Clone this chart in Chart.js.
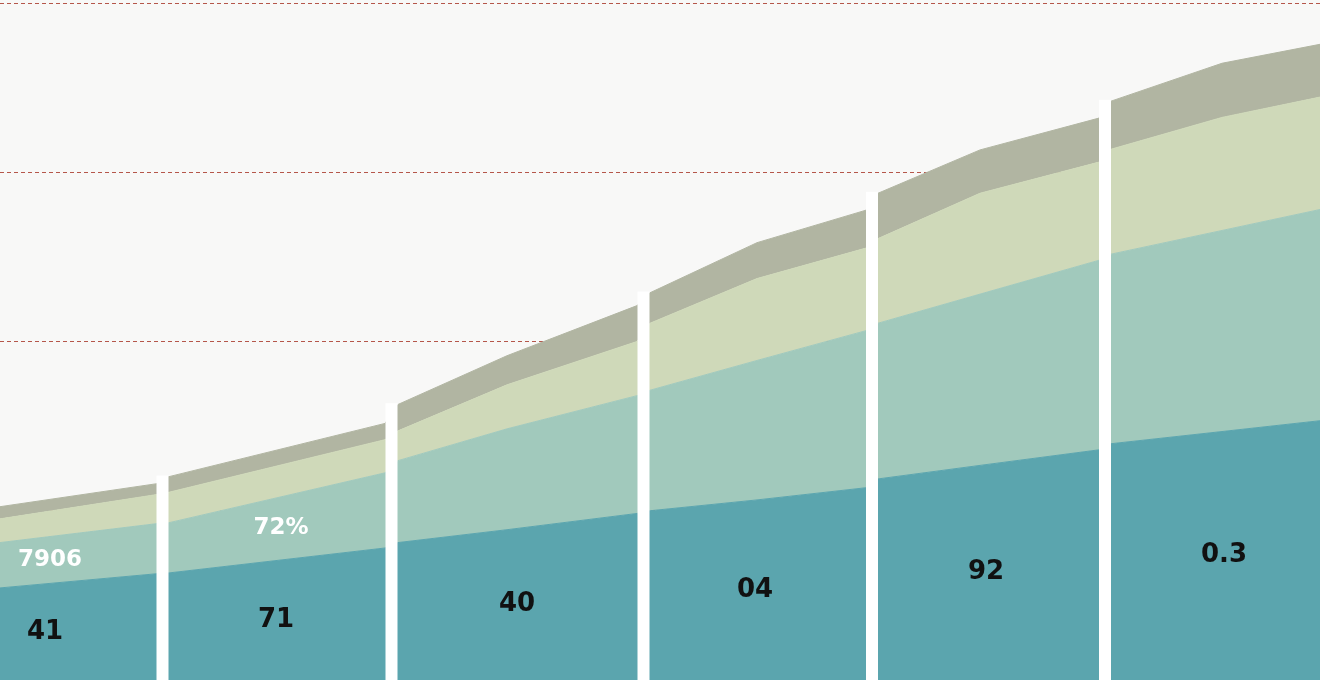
<!DOCTYPE html>
<html>
<head>
<meta charset="utf-8">
<script src="https://cdn.jsdelivr.net/npm/chart.js@4/dist/chart.umd.min.js"></script>
<style>
  html, body { margin: 0; padding: 0; background: #f8f8f7; }
  #chart { display: block; }
</style>
</head>
<body>
<canvas id="chart" width="1320" height="680"></canvas>
<script>
// x positions of the segment edges (each segment is split by a white gap)
const xs = [0, 157, 168, 385, 398, 507, 637, 650, 757, 866, 878, 980, 1099, 1111, 1222, 1320];
// band thicknesses, bottom to top
const tealValues   = [13.6, 15.7, 15.8, 19.5, 20.3, 22.2, 24.6, 25.0, 26.6, 28.4, 29.7, 31.7, 34.0, 34.9, 36.7, 38.3];
const lightValues  = [6.7, 7.4, 7.4, 11.1, 12.1, 14.9, 17.4, 17.8, 20.6, 23.2, 23.0, 25.3, 28.0, 28.0, 29.7, 31.2];
const yellowValues = [3.5, 4.3, 4.5, 4.9, 4.4, 6.5, 8.0, 9.9, 12.1, 12.2, 12.5, 14.9, 14.5, 15.5, 16.7, 16.6];
const grayValues   = [1.8, 1.6, 2.3, 2.4, 3.9, 4.3, 5.3, 4.5, 5.3, 5.6, 6.7, 6.4, 6.5, 7.1, 8.0, 7.8];
// white gaps between the segments
const gapX = [162.5, 391.5, 643.5, 872, 1105];
// text labels: x, band index (0 = teal, 1 = light teal), text
const labelX    = [45, 50, 281, 276, 517, 755, 986, 1224];
const labelBand = [0, 1, 1, 0, 0, 0, 0, 0];
const labelText = ['41', '7906', '72%', '71', '40', '04', '92', '0.3'];

const colors = ['#5ba5ae', '#a1c9bc', '#cfd9b9', '#b1b5a2'];
const series = [tealValues, lightValues, yellowValues, grayValues];

const datasets = series.map((vals, i) => ({
    data: vals.map((v, k) => ({ x: xs[k], y: v })),
    backgroundColor: colors[i],
    borderColor: colors[i],
    borderWidth: 1,
    pointRadius: 0,
    tension: 0,
    fill: i === 0 ? 'origin' : '-1'
}));

// cumulative height at x for a given band boundary
function stackAt(x, upto) {
    let k = 0;
    while (k < xs.length - 2 && xs[k + 1] < x) k++;
    const t = (x - xs[k]) / (xs[k + 1] - xs[k]);
    let sum = 0;
    for (let i = 0; i <= upto; i++) {
        sum += series[i][k] + (series[i][k + 1] - series[i][k]) * t;
    }
    return sum;
}

const gapPlugin = {
    id: 'segmentGaps',
    afterDatasetsDraw(chart) {
        const ctx = chart.ctx;
        const xScale = chart.scales.x;
        const yScale = chart.scales.y;
        const area = chart.chartArea;
        ctx.save();
        ctx.fillStyle = '#ffffff';
        gapX.forEach(g => {
            const top = Math.max(stackAt(g - 7, 3), stackAt(g + 7, 3));
            const x0 = xScale.getPixelForValue(g - 6);
            const x1 = xScale.getPixelForValue(g + 6);
            const y0 = yScale.getPixelForValue(top) - 1;
            ctx.fillRect(x0, y0, x1 - x0, area.bottom + 2 - y0);
        });
        ctx.restore();
    }
};

const labelPlugin = {
    id: 'bandLabels',
    afterDraw(chart) {
        const ctx = chart.ctx;
        const xScale = chart.scales.x;
        const yScale = chart.scales.y;
        ctx.save();
        ctx.textAlign = 'center';
        ctx.textBaseline = 'middle';
        labelText.forEach((txt, i) => {
            const b = labelBand[i];
            const lo = b === 0 ? 0 : stackAt(labelX[i], b - 1);
            const hi = stackAt(labelX[i], b);
            const px = xScale.getPixelForValue(labelX[i]);
            const py = yScale.getPixelForValue((lo + hi) / 2);
            if (b === 0) {
                ctx.fillStyle = '#111111';
                ctx.font = 'bold 26px "DejaVu Sans", sans-serif';
            } else {
                ctx.fillStyle = '#ffffff';
                ctx.font = 'bold 23px "DejaVu Sans", sans-serif';
            }
            ctx.fillText(txt, px, py);
        });
        ctx.restore();
    }
};

new Chart(document.getElementById('chart').getContext('2d'), {
    type: 'line',
    data: { datasets },
    options: {
        responsive: false,
        animation: false,
        layout: { padding: { top: 3, bottom: 0, left: 0, right: 0 } },
        plugins: { legend: { display: false }, tooltip: { enabled: false } },
        scales: {
            x: {
                type: 'linear',
                min: 0,
                max: 1320,
                display: false
            },
            y: {
                stacked: true,
                min: 0,
                max: 100,
                ticks: { display: false, stepSize: 25 },
                border: { display: false, dash: [4, 3] },
                grid: {
                    color: (c) => c.tick && c.tick.value === 0 ? 'rgba(0,0,0,0)' : '#b5564a',
                    lineWidth: 1,
                    drawTicks: false
                }
            }
        }
    },
    plugins: [gapPlugin, labelPlugin]
});
</script>
</body>
</html>
